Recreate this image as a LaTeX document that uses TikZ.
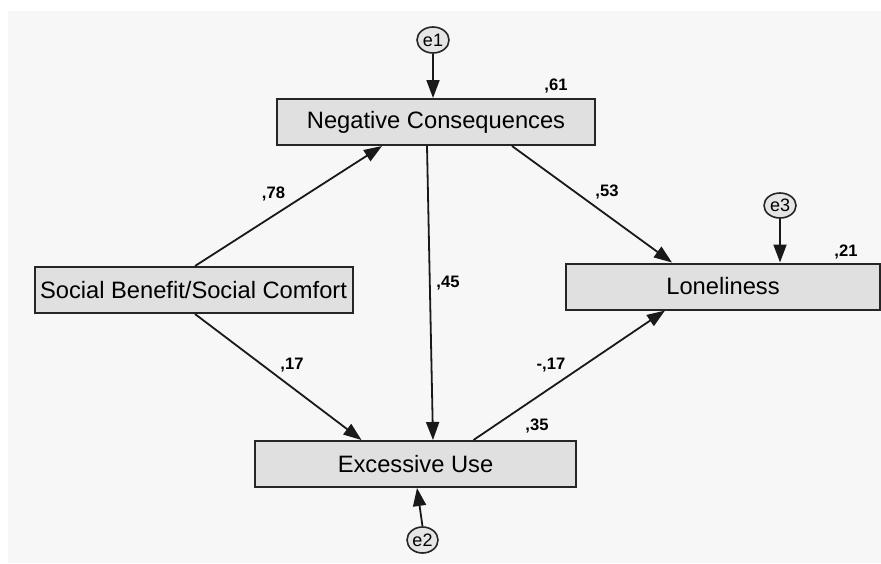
\documentclass[tikz,border=0pt]{standalone}
\usepackage{fontspec}
\setmainfont{Liberation Sans}
\usetikzlibrary{arrows.meta,shapes.geometric}

\begin{document}
\begin{tikzpicture}[x=0.5pt, y=-0.5pt,
    var/.style={draw=black!85, line width=1pt, rectangle, fill=black!12, minimum width=159pt, minimum height=23pt, inner sep=0pt, font=\fontsize{11.85}{14}\selectfont},
    err/.style={draw=black!85, line width=0.8pt, ellipse, fill=black!10, minimum width=16pt, minimum height=13pt, inner sep=0pt, font=\fontsize{9}{10}\selectfont},
    coef/.style={inner sep=0pt, font=\fontsize{8.3}{10}\selectfont\bfseries},
    path/.style={draw=black!90, line width=0.9pt, -{Triangle[length=9pt, width=6.5pt]}}]
    % background
    \useasboundingbox[fill=white] (0,0) rectangle (881,563);
    \fill[black!3] (8,11) rectangle (881,563);

    % observed variables
    \node[var] (negcons) at (436,122) {Negative Consequences};
    \node[var] (socben) at (193.5,290) {Social Benefit/Social Comfort};
    \node[var, minimum width=157pt] (lonely) at (723,286.5) {Loneliness};
    \node[var, minimum width=160.5pt] (excuse) at (415.5,464) {Excessive Use};

    % error terms
    \node[err] (e1) at (433,40) {e1};
    \node[err, minimum width=15.5pt] (e2) at (422.5,540) {e2};
    \node[err, minimum height=12.5pt] (e3) at (780,205.5) {e3};

    % paths
    \draw[path] (e1.south) -- (e1.south |- negcons.north);
    \draw[path] (e3.south) -- (e3.south |- lonely.north);
    \draw[path] (e2.north) -- ([xshift=0.75pt]excuse.south);
    \draw[path] ([xshift=0.75pt]socben.north) -- ([xshift=-27pt]negcons.south);
    \draw[path] ([xshift=0.75pt]socben.south) -- ([xshift=-27pt]excuse.north);
    \draw[path] ([xshift=-4.5pt]negcons.south) -- ([xshift=8.75pt]excuse.north);
    \draw[path] ([xshift=38pt]negcons.south) -- ([xshift=-25.5pt]lonely.north);
    \draw[path] ([xshift=29pt]excuse.north) -- ([xshift=-29pt]lonely.south);

    % coefficients
    \node[coef] (r-negcons) at (556,86) {,61};
    \node[coef] (r-lonely) at (846,252) {,21};
    \node[coef] (r-excuse) at (537,426) {,35};
    \node[coef] (c-sb-nc) at (273.5,194) {,78};
    \node[coef] (c-nc-lo) at (607,192) {,53};
    \node[coef] (c-nc-eu) at (448,283) {,45};
    \node[coef] (c-sb-eu) at (292,365) {,17};
    \node[coef] (c-eu-lo) at (551,365) {-,17};
\end{tikzpicture}
\end{document}
